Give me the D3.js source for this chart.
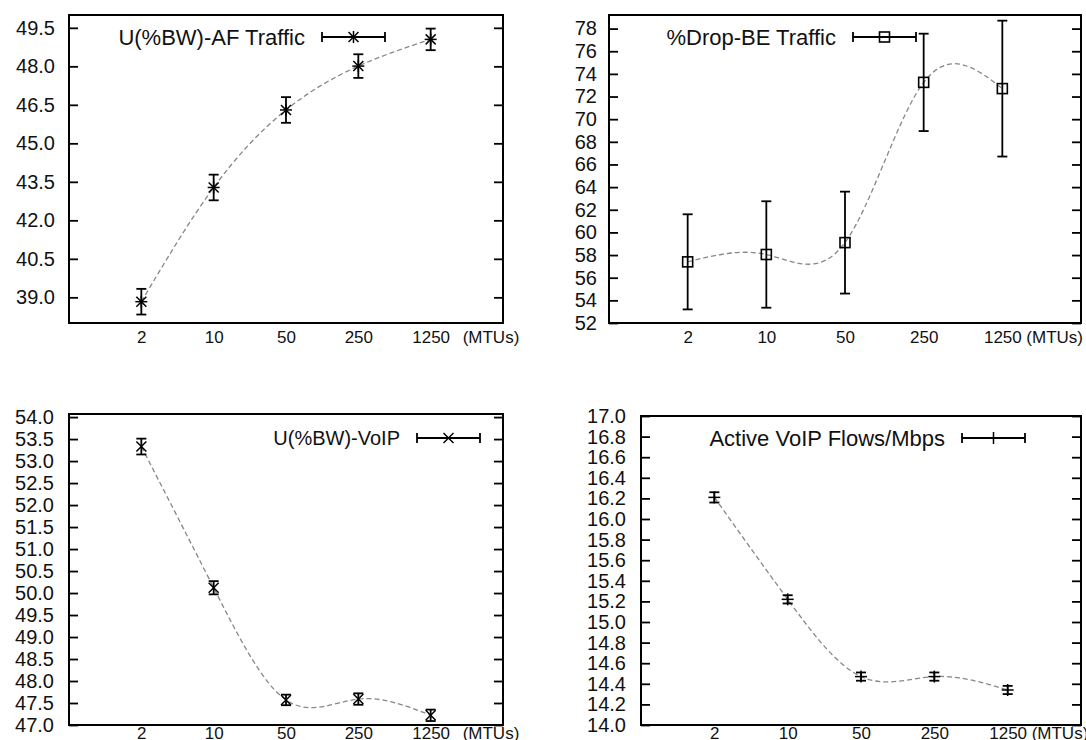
<!DOCTYPE html>
<html>
<head>
<meta charset="utf-8">
<script src="https://cdn.jsdelivr.net/npm/d3@7/dist/d3.min.js"></script>
<style>
  body { margin: 0; background: #fff; }
  svg { display: block; }
  text { font-family: "Liberation Sans", Arial, sans-serif; fill: #111; }
</style>
</head>
<body>
<svg id="chart" width="1086" height="740"></svg>
<script>
// message sizes on the x axis (log scale, base 5)
var mtus = [2, 10, 50, 250, 1250];

// top-left: utilisation of AF traffic
var afUtil = [38.83, 43.28, 46.30, 48.01, 49.05];
var afUtilErr = [0.50, 0.50, 0.50, 0.46, 0.42];
var afTicks = [39.0, 40.5, 42.0, 43.5, 45.0, 46.5, 48.0, 49.5];

// top-right: drop rate of BE traffic
var beDrop = [57.4, 58.05, 59.1, 73.25, 72.7];
var beDropErr = [4.2, 4.7, 4.5, 4.3, 6.0];
var beTicks = [52, 54, 56, 58, 60, 62, 64, 66, 68, 70, 72, 74, 76, 78];

// bottom-left: utilisation of VoIP
var voipUtil = [53.33, 50.12, 47.57, 47.59, 47.22];
var voipUtilErr = [0.18, 0.15, 0.12, 0.13, 0.13];
var voipTicks = [47.0, 47.5, 48.0, 48.5, 49.0, 49.5, 50.0, 50.5, 51.0, 51.5, 52.0, 52.5, 53.0, 53.5, 54.0];

// bottom-right: active VoIP flows per Mbps
var flows = [16.21, 15.22, 14.47, 14.47, 14.34];
var flowsErr = [0.05, 0.04, 0.04, 0.04, 0.04];
var flowTicks = [14.0, 14.2, 14.4, 14.6, 14.8, 15.0, 15.2, 15.4, 15.6, 15.8, 16.0, 16.2, 16.4, 16.6, 16.8, 17.0];

var panels = [
  { left: 69, top: 15, right: 503, bottom: 323, domain: [38, 50], ticks: afTicks, fmt: '.1f',
    values: afUtil, errors: afUtilErr, marker: 'star', name: 'U(%BW)-AF Traffic',
    legendX: 305, legendY: 37, legendSize: 22, pad: 14, xPad: 8, unitGap: 32 },
  { left: 609, top: 15, right: 1081, bottom: 323, domain: [52, 79.2], ticks: beTicks, fmt: 'd',
    values: beDrop, errors: beDropErr, marker: 'square', name: '%Drop-BE Traffic',
    legendX: 836, legendY: 37, legendSize: 22, pad: 12, xPad: 8, unitGap: 24 },
  { left: 69, top: 414, right: 503, bottom: 725, domain: [47, 54.07], ticks: voipTicks, fmt: '.1f',
    values: voipUtil, errors: voipUtilErr, marker: 'cross', name: 'U(%BW)-VoIP',
    legendX: 400, legendY: 438, legendSize: 20, pad: 15, xPad: 2, unitGap: 32 },
  { left: 641, top: 416, right: 1081, bottom: 725, domain: [14, 17], ticks: flowTicks, fmt: '.1f',
    values: flows, errors: flowsErr, marker: 'plus', name: 'Active VoIP Flows/Mbps',
    legendX: 945, legendY: 438, legendSize: 22, pad: 15, xPad: 2, unitGap: 24 }
];

var svg = d3.select('#chart');

function drawMarker(g, type, cx, cy) {
  var s = 5;
  var segs = [];
  if (type === 'star' || type === 'plus') {
    segs.push([-s - 1, 0, s + 1, 0], [0, -s - 1, 0, s + 1]);
  }
  if (type === 'star' || type === 'cross') {
    segs.push([-s, -s, s, s], [-s, s, s, -s]);
  }
  segs.forEach(function(d) {
    g.append('line')
      .attr('x1', cx + d[0]).attr('y1', cy + d[1])
      .attr('x2', cx + d[2]).attr('y2', cy + d[3])
      .attr('stroke', '#000').attr('stroke-width', 1.5);
  });
  if (type === 'square') {
    g.append('rect')
      .attr('x', cx - 5).attr('y', cy - 5)
      .attr('width', 10).attr('height', 10)
      .attr('fill', 'none').attr('stroke', '#000').attr('stroke-width', 1.6);
  }
}

panels.forEach(function(p) {
  var g = svg.append('g');
  var x = d3.scaleLog().base(5).domain([0.4, 6250]).range([p.left, p.right]);
  var y = d3.scaleLinear().domain(p.domain).range([p.bottom, p.top]);

  // y ticks, inward on both sides
  var leftAxis = g.append('g')
    .attr('transform', 'translate(' + p.left + ',0)')
    .call(d3.axisLeft(y).tickValues(p.ticks).tickSize(-9).tickPadding(p.pad)
      .tickFormat(d3.format(p.fmt)));
  var rightAxis = g.append('g')
    .attr('transform', 'translate(' + p.right + ',0)')
    .call(d3.axisRight(y).tickValues(p.ticks).tickSize(-9).tickFormat(''));
  [leftAxis, rightAxis].forEach(function(a) {
    a.select('.domain').remove();
    a.selectAll('line').attr('stroke', '#000').attr('stroke-width', 1.8);
    a.selectAll('text').attr('font-size', 20).attr('fill', '#111')
      .attr('font-family', '"Liberation Sans", Arial, sans-serif');
  });

  // x labels, no tick marks
  var xAxis = g.append('g')
    .attr('transform', 'translate(0,' + p.bottom + ')')
    .call(d3.axisBottom(x).tickValues(mtus).tickSize(0).tickPadding(p.xPad).tickFormat(d3.format('d')));
  xAxis.select('.domain').remove();
  xAxis.selectAll('text').attr('font-size', 17).attr('fill', '#111')
    .attr('font-family', '"Liberation Sans", Arial, sans-serif');
  g.append('text')
    .attr('x', x(1250) + p.unitGap).attr('y', p.bottom + p.xPad)
    .attr('dy', '0.71em').attr('font-size', 17)
    .text('(MTUs)');

  // smooth dashed line
  var line = d3.line()
    .x(function(d, i) { return x(mtus[i]); })
    .y(function(d) { return y(d); })
    .curve(d3.curveNatural);
  g.append('path')
    .attr('d', line(p.values))
    .attr('fill', 'none')
    .attr('stroke', '#888')
    .attr('stroke-width', 1.3)
    .attr('stroke-dasharray', '5,3');

  // error bars and markers
  p.values.forEach(function(v, i) {
    var cx = x(mtus[i]);
    var e = p.errors[i];
    var y0 = y(v - e), y1 = y(v + e);
    g.append('line').attr('x1', cx).attr('x2', cx).attr('y1', y0).attr('y2', y1)
      .attr('stroke', '#000').attr('stroke-width', 1.8);
    [y0, y1].forEach(function(yy) {
      g.append('line').attr('x1', cx - 5).attr('x2', cx + 5).attr('y1', yy).attr('y2', yy)
        .attr('stroke', '#000').attr('stroke-width', 1.8);
    });
    drawMarker(g, p.marker, cx, y(v));
  });

  // legend
  g.append('text')
    .attr('x', p.legendX).attr('y', p.legendY).attr('dy', '0.35em')
    .attr('text-anchor', 'end').attr('font-size', p.legendSize)
    .text(p.name);
  var sx0 = p.legendX + 17, sx1 = sx0 + 63, sy = p.legendY;
  g.append('line').attr('x1', sx0).attr('x2', sx1).attr('y1', sy).attr('y2', sy)
    .attr('stroke', '#000').attr('stroke-width', 1.8);
  [sx0, sx1].forEach(function(xx) {
    g.append('line').attr('x1', xx).attr('x2', xx).attr('y1', sy - 5).attr('y2', sy + 5)
      .attr('stroke', '#000').attr('stroke-width', 1.8);
  });
  drawMarker(g, p.marker, (sx0 + sx1) / 2, sy);

  // frame
  g.append('rect')
    .attr('x', p.left).attr('y', p.top)
    .attr('width', p.right - p.left).attr('height', p.bottom - p.top)
    .attr('fill', 'none').attr('stroke', '#000').attr('stroke-width', 2);
});
</script>
</body>
</html>
